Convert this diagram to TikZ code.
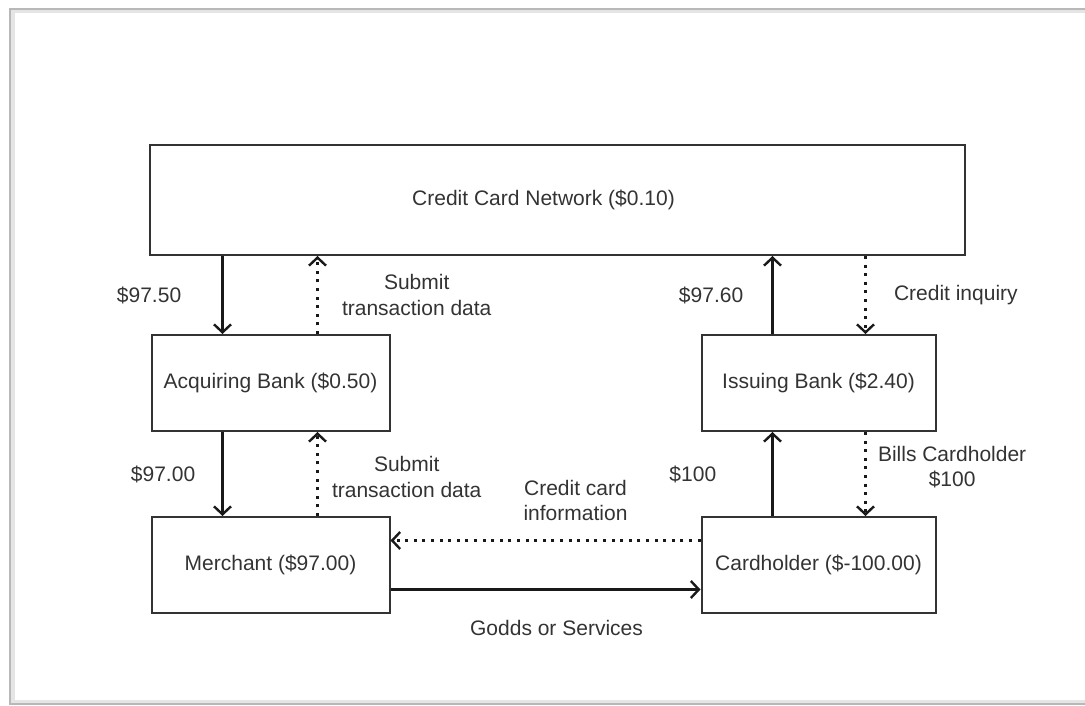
\documentclass[tikz,border=0pt]{standalone}
\usepackage{fontspec}
\setmainfont{Liberation Sans}
\usetikzlibrary{positioning,arrows.meta}

\begin{document}
\begin{tikzpicture}
[
  box/.style={rectangle, draw=black!80, line width=2pt, text=black!80, minimum height=96pt},
  money/.style={->, line width=2.6pt, draw=black!90},
  info/.style={->, line width=3pt, draw=black!90, dash pattern=on 3pt off 5.6pt},
  lbl/.style={text=black!80, inner sep=2pt, align=center},
  >={Straight Barb[length=8pt,width=17pt,line width=2.4pt]},
  node distance=182pt,
  on grid,
  font=\fontsize{21}{25.5}\selectfont
]
 % frame
 \useasboundingbox (0,0) rectangle (1085pt,-706pt);
 \draw[black!10, line width=5pt] (12pt,-11pt) rectangle (1110pt,-702pt);
 \draw[black!28, line width=1.2pt] (10pt,-9pt) rectangle (1110pt,-704pt);

 \node[box, minimum width=815pt, minimum height=110pt] (net) at (557.5pt,-200pt) {Credit Card Network (\$0.10)\hspace*{28pt}};
 \node[box, minimum width=238pt] (acq) [below left=183pt and 287pt of net] {Acquiring Bank (\$0.50)};
 \node[box, minimum width=238pt] (merch) [below=of acq] {Merchant (\$97.00)};
 \node[box, minimum width=234pt] (iss) [right=548pt of acq] {Issuing Bank (\$2.40)};
 \node[box, minimum width=234pt] (card) [below=of iss] {Cardholder (\$-100.00)};

 \coordinate (acqL) at ([xshift=-48pt]acq.north);
 \coordinate (acqR) at ([xshift=47pt]acq.north);
 \coordinate (merL) at ([xshift=-48pt]merch.north);
 \coordinate (merR) at ([xshift=47pt]merch.north);
 \coordinate (issL) at ([xshift=-46pt]iss.north);
 \coordinate (issR) at ([xshift=47pt]iss.north);
 \coordinate (cardL) at ([xshift=-46pt]card.north);
 \coordinate (cardR) at ([xshift=47pt]card.north);

 % acquiring side
 \draw[money] (net.south -| acqL) -- node[lbl, left=38pt] {\$97.50} (acqL);
 \draw[info] (acqR) -- node[lbl, right=21pt] {Submit\\transaction data} (net.south -| acqR);
 \draw[money] (acq.south -| merL) -- node[lbl, left=24pt] {\$97.00} (merL);
 \draw[info] (merR) -- node[lbl, right=11pt, yshift=-3pt] {Submit\\transaction data} (acq.south -| merR);

 % issuing side
 \draw[money] (issL) -- node[lbl, left=26pt] {\$97.60} (net.south -| issL);
 \draw[info] (net.south -| issR) -- node[lbl, right=25pt] {Credit inquiry} (issR);
 \draw[money] (cardL) -- node[lbl, left=53pt] {\$100} (iss.south -| cardL);
 \draw[info] (iss.south -| cardR) -- node[lbl, right=9pt, yshift=7pt] {Bills Cardholder\\\$100} (cardR);

 % merchant and cardholder
 \draw[info] ([yshift=24.5pt]card.west) -- node[lbl, above=16pt, xshift=30pt] {Credit card\\information} ([yshift=24.5pt]card.west -| merch.east);
 \draw[money] ([yshift=-24.5pt]merch.east) -- node[lbl, below=27pt, xshift=11pt] {Godds or Services} ([yshift=-24.5pt]merch.east -| card.west);
\end{tikzpicture}
\end{document}
